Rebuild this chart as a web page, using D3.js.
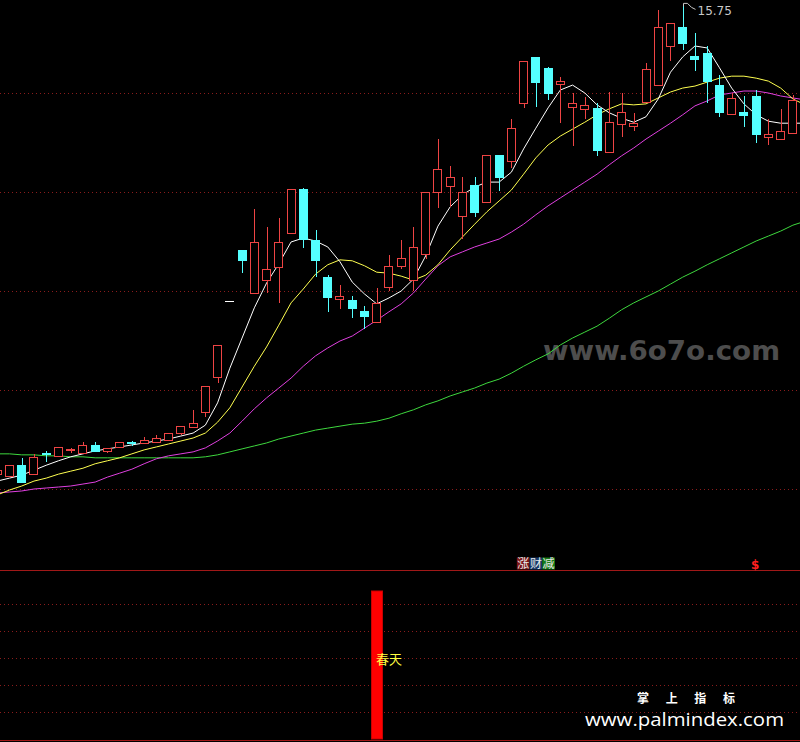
<!DOCTYPE html>
<html><head><meta charset="utf-8">
<script src="https://cdn.jsdelivr.net/npm/d3@7"></script>
<style>html,body{margin:0;padding:0;background:#000;overflow:hidden}</style>
</head><body><svg id="c" width="800" height="742"></svg>
<script>
// candle index of the first entry (partly off the left edge)
const firstIndex = -1;
const opens  = [6.30,6.26,6.48,6.30,6.73,6.67,6.78,6.73,6.89,6.77,6.84,6.94,6.92,6.94,7.00,7.13,7.26,7.56,8.27,9.80,10.83,9.95,10.22,10.48,11.18,12.07,11.04,10.29,9.83,9.82,9.60,9.38,10.09,10.51,10.22,10.74,11.99,12.13,11.52,12.14,11.80,12.75,12.63,13.80,14.73,14.51,14.18,13.72,13.67,13.69,12.81,13.37,13.34,13.82,14.16,14.94,15.33,14.75,14.81,14.16,13.57,13.61,13.93,13.12,13.08,13.20];
const highs  = [6.42,6.48,6.63,6.71,6.77,6.85,6.83,6.94,6.94,6.82,6.94,6.97,7.06,7.09,7.13,7.27,7.60,8.08,8.91,9.80,10.83,11.65,11.29,11.47,12.07,12.08,11.23,10.32,10.12,9.90,9.70,10.07,10.73,11.04,11.29,11.99,13.08,12.53,12.30,12.30,12.75,12.75,13.47,14.65,14.73,14.53,14.33,14.01,13.91,13.80,14.02,14.01,13.59,14.61,15.68,15.41,15.75,15.21,14.94,14.36,13.99,13.93,14.06,13.47,13.67,13.96];
const lows   = [6.26,6.26,6.12,6.30,6.55,6.67,6.73,6.73,6.75,6.73,6.84,6.87,6.90,6.94,6.98,7.09,7.23,7.46,8.14,9.80,10.37,9.95,9.95,9.75,11.18,10.87,10.29,9.58,9.63,9.45,9.23,9.38,9.99,10.44,9.99,10.64,11.67,11.70,11.06,11.49,11.80,12.03,12.49,13.70,13.72,13.86,13.40,12.93,13.47,12.73,12.81,13.12,13.24,13.82,14.16,14.65,14.87,14.45,13.79,13.52,13.56,13.32,13.00,12.95,13.08,13.20];
const closes = [6.38,6.48,6.12,6.65,6.70,6.85,6.80,6.89,6.75,6.82,6.94,6.90,6.99,7.04,7.13,7.27,7.33,8.08,8.91,9.80,10.61,10.98,10.44,10.98,12.07,11.04,10.61,9.85,9.90,9.64,9.48,9.75,10.51,10.66,10.88,11.99,12.46,12.30,11.99,11.58,12.75,12.28,13.29,14.65,14.20,13.98,14.24,13.79,13.76,12.83,13.41,13.61,13.40,14.48,15.33,15.41,14.98,14.67,14.23,13.60,13.89,13.54,13.15,13.17,13.23,13.86];
// moving averages (index -1 .. 65)
const ma5  = [6.16,6.22,6.28,6.38,6.48,6.57,6.65,6.71,6.77,6.81,6.85,6.89,6.93,6.97,7.01,7.07,7.13,7.29,7.74,8.44,9.05,9.66,10.16,10.55,10.99,11.07,11.01,10.89,10.59,10.18,9.94,9.74,9.86,10.00,10.24,10.71,11.31,11.70,11.94,12.10,12.20,12.20,12.40,12.87,13.29,13.70,14.06,14.16,14.00,13.76,13.60,13.49,13.41,13.52,13.88,14.42,14.73,14.95,14.91,14.51,14.10,13.78,13.56,13.43,13.39,13.39,13.39];
const ma10 = [5.88,5.98,6.06,6.16,6.22,6.30,6.36,6.42,6.51,6.57,6.63,6.71,6.79,6.85,6.91,6.97,7.03,7.13,7.35,7.64,8.06,8.48,8.87,9.31,9.76,10.04,10.34,10.53,10.63,10.61,10.51,10.38,10.36,10.30,10.22,10.32,10.53,10.83,11.09,11.35,11.60,11.82,12.04,12.36,12.69,12.95,13.13,13.27,13.41,13.56,13.68,13.78,13.76,13.78,13.90,14.02,14.10,14.14,14.22,14.30,14.34,14.34,14.30,14.24,14.10,13.88,13.76];
const ma20 = [5.92,5.94,5.96,6.00,6.02,6.04,6.06,6.10,6.14,6.24,6.32,6.40,6.51,6.61,6.67,6.71,6.75,6.83,6.97,7.13,7.37,7.62,7.84,8.04,8.24,8.48,8.69,8.85,8.99,9.09,9.25,9.41,9.58,9.74,9.96,10.24,10.51,10.69,10.79,10.89,10.97,11.05,11.19,11.35,11.54,11.72,11.88,12.04,12.20,12.36,12.55,12.73,12.89,13.07,13.23,13.39,13.56,13.74,13.84,13.96,14.00,14.04,14.04,14.00,13.94,13.90,13.86];
const ma60 = [6.71,6.71,6.69,6.69,6.67,6.67,6.65,6.65,6.63,6.63,6.63,6.63,6.63,6.63,6.63,6.63,6.63,6.65,6.69,6.75,6.81,6.87,6.93,7.01,7.07,7.13,7.19,7.23,7.27,7.31,7.33,7.37,7.43,7.52,7.60,7.70,7.78,7.88,7.96,8.04,8.14,8.22,8.34,8.48,8.61,8.73,8.91,9.05,9.17,9.29,9.45,9.62,9.76,9.88,10.00,10.14,10.28,10.40,10.53,10.65,10.77,10.89,11.01,11.11,11.21,11.33,11.41];
const priceTicks = [6, 8, 10, 12, 14];
const subTicks = [0.2, 0.4, 0.6, 0.8, 1.0];
const barIndex = [30];
const barValue = [1.1];
const barLabel = ["春天"];
const signalIndex = 43;
const signalChars = ["涨", "财", "减"];
const dollarIndex = 61;
const peakText = "15.75";

const svg = d3.select("#c");
const W = 800;
const x = d3.scaleLinear().domain([0, 64]).range([9.5, 792.9]);
const y = d3.scaleLinear().domain([6, 14]).range([489, 93]);
const ySub = d3.scaleLinear().domain([0, 1.1]).range([739, 591]);
const half = 4.5;

svg.append("rect").attr("width", W).attr("height", 742).attr("fill", "#000");

// grid
svg.append("g").selectAll("line").data(priceTicks).join("line")
  .attr("x1", 0).attr("x2", W)
  .attr("y1", d => Math.round(y(d)) + 0.5).attr("y2", d => Math.round(y(d)) + 0.5)
  .attr("stroke", "#8a1c1c").attr("stroke-dasharray", "1,3");
svg.append("g").selectAll("line").data(subTicks).join("line")
  .attr("x1", 0).attr("x2", W)
  .attr("y1", d => Math.round(ySub(d)) + 0.5).attr("y2", d => Math.round(ySub(d)) + 0.5)
  .attr("stroke", "#8a1c1c").attr("stroke-dasharray", "1,3");
svg.append("line").attr("x1", 0).attr("x2", W).attr("y1", 570.5).attr("y2", 570.5)
  .attr("stroke", "#a01818");
svg.append("line").attr("x1", 0).attr("x2", W).attr("y1", 740.5).attr("y2", 740.5)
  .attr("stroke", "#a01818");

// watermark
svg.append("text").attr("x", 543).attr("y", 360).text("www.6o7o.com")
  .attr("font-family", "DejaVu Sans").attr("font-weight", "bold").attr("font-size", 27)
  .attr("textLength", 237).attr("lengthAdjust", "spacingAndGlyphs")
  .attr("fill", "#4d4d4d");

// moving averages
const maSets = [[ma60, "#3ed83e"], [ma20, "#e040e0"], [ma10, "#ffff50"], [ma5, "#ffffff"]];
maSets.forEach(([arr, col]) => {
  const line = d3.line().x((d, k) => x(k + firstIndex)).y(d => y(d));
  svg.append("path").attr("d", line(arr)).attr("fill", "none")
    .attr("stroke", col).attr("stroke-width", 1);
});

// candles
const candles = opens.map((o, k) => ({ i: k + firstIndex, o, h: highs[k], l: lows[k], c: closes[k] }));
const g = svg.append("g").attr("shape-rendering", "crispEdges");
candles.forEach(d => {
  const cx = x(d.i);
  const wx = Math.round(cx) + 0.5;
  if (d.h === d.l) {
    g.append("line").attr("x1", Math.round(cx - half)).attr("x2", Math.round(cx + half))
      .attr("y1", Math.round(y(d.c)) + 0.5).attr("y2", Math.round(y(d.c)) + 0.5)
      .attr("stroke", "#ffffff");
    return;
  }
  const up = d.c >= d.o;
  const top = y(Math.max(d.o, d.c)), bot = y(Math.min(d.o, d.c));
  const col = up ? "#ee4444" : "#54ffff";
  if (y(d.h) < top) g.append("line").attr("x1", wx).attr("x2", wx).attr("y1", y(d.h)).attr("y2", top).attr("stroke", col);
  if (y(d.l) > bot) g.append("line").attr("x1", wx).attr("x2", wx).attr("y1", bot).attr("y2", y(d.l)).attr("stroke", col);
  const x0 = Math.round(cx - half);
  if (up) {
    g.append("rect").attr("x", x0 + 0.5).attr("y", Math.round(top) + 0.5)
      .attr("width", 8).attr("height", Math.max(1, Math.round(bot) - Math.round(top)))
      .attr("fill", "#000").attr("stroke", col);
  } else {
    g.append("rect").attr("x", x0).attr("y", Math.round(top))
      .attr("width", 9).attr("height", Math.max(2, Math.round(bot) - Math.round(top)))
      .attr("fill", col);
  }
});

// peak label
const pk = d3.maxIndex(highs);
const px = Math.round(x(pk + firstIndex)) + 0.5, py = y(highs[pk]);
svg.append("path").attr("d", `M${px},${py} V${py - 3} H${px + 4} L${px + 8},${py + 1} L${px + 12},${py + 3}`)
  .attr("fill", "none").attr("stroke", "#c8c8c8").attr("stroke-width", 1);
svg.append("text").attr("x", px + 14).attr("y", py + 9).text(peakText)
  .attr("font-family", "DejaVu Sans").attr("font-size", 12).attr("fill", "#c8c8c8");

// signals
const sx = x(signalIndex) - 19;
const sCols = ["#7a1414", "#17386a", "#157a15"];
signalChars.forEach((ch, k) => {
  svg.append("rect").attr("x", sx + k * 12.7).attr("y", 557.5).attr("width", 12.7).attr("height", 12)
    .attr("fill", sCols[k]);
  svg.append("text").attr("x", sx + k * 12.7 + 6.35).attr("y", 568).attr("text-anchor", "middle")
    .text(ch).attr("font-family", "Noto Sans CJK SC").attr("font-size", 12).attr("fill", "#e8e8e8");
});
svg.append("text").attr("x", x(dollarIndex) - 1).attr("y", 569).attr("text-anchor", "middle")
  .text("$").attr("font-family", "DejaVu Sans").attr("font-weight", "bold").attr("font-size", 12)
  .attr("fill", "#ff2020");

// lower panel bar
barIndex.forEach((bi, k) => {
  svg.append("rect").attr("x", Math.round(x(bi)) - 5.5).attr("y", ySub(barValue[k]))
    .attr("width", 11).attr("height", ySub(0) - ySub(barValue[k]))
    .attr("fill", "#ff0000").attr("stroke", "#c80000").attr("stroke-width", 1);
  svg.append("text").attr("x", Math.round(x(bi)) - 1).attr("y", 664).text(barLabel[k])
    .attr("font-family", "Noto Sans CJK SC").attr("font-size", 13).attr("fill", "#ffff40");
});

// footer watermark
svg.append("text").attr("x", 637).attr("y", 703).text("掌 上 指 标")
  .attr("font-family", "Noto Sans CJK SC").attr("font-weight", "bold").attr("font-size", 12)
  .attr("textLength", 98).attr("lengthAdjust", "spacing")
  .attr("fill", "#ffffff");
svg.append("text").attr("x", 585).attr("y", 726).text("www.palmindex.com")
  .attr("font-family", "Open Sans").attr("font-size", 19)
  .attr("textLength", 199).attr("lengthAdjust", "spacingAndGlyphs").attr("fill", "#ffffff");
</script></body></html>
